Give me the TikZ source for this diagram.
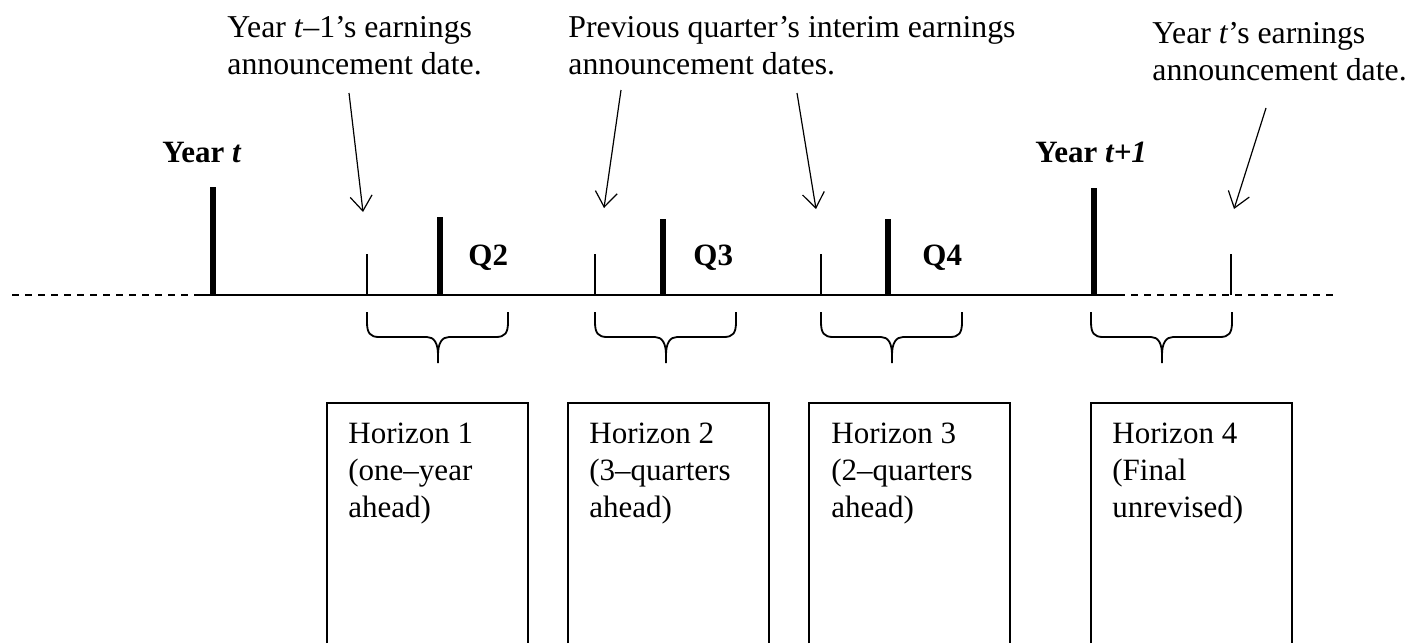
\documentclass[tikz,border=0pt]{standalone}
\usepackage{fontspec}
\setmainfont{Liberation Serif}
\usetikzlibrary{arrows.meta}

\begin{document}
\begin{tikzpicture}[x=0.5pt,y=-0.5pt,
    every node/.style={inner sep=0pt,font=\fontsize{15.5}{18.5}\selectfont},
    note/.style={anchor=base west,align=left},
    bignote/.style={note,font=\fontsize{15.9}{18.5}\selectfont},
    pointer/.style={-{Straight Barb[length=7.5pt,width=11pt]},line width=0.6pt},
    axis/.style={line width=1pt},
    axisdash/.style={line width=1pt,dash pattern=on 3.5pt off 3pt},
    bigtick/.style={line width=3pt},
    smalltick/.style={line width=0.8pt},
    brace/.style={line width=0.9pt},
    hbox/.style={line width=0.9pt}]
  \useasboundingbox (0,0) rectangle (1407,643);

  % time line
  \draw[axisdash] (12,295) -- (230,295);
  \draw[axis] (197,295) -- (1118,295);
  \draw[axisdash] (1118,295) -- (1335,295);

  % year and quarter ends
  \foreach \x/\t in {213/187,440/217,663/219,888/219,1094/188}{
    \draw[bigtick] (\x,295) -- (\x,\t);
  }
  % announcement dates
  \foreach \x in {367,595,821,1231}{
    \draw[smalltick] (\x,295) -- (\x,254);
  }

  \node[note] (yt) at (162,162) {\bfseries Year \textit{t}};
  \node[note] (yt1) at (1035,162) {\bfseries Year \textit{t+1}};
  \node[note] (q2) at (468,265) {\bfseries Q2};
  \node[note] (q3) at (693,265) {\bfseries Q3};
  \node[note] (q4) at (922,265) {\bfseries Q4};

  % base of a two-line note is its last line
  \node[bignote] (ann1) at (227,74) {Year \textit{t}–1’s earnings\\announcement date.};
  \node[bignote] (ann2) at (568,74) {Previous quarter’s interim earnings\\announcement dates.};
  \node[bignote] (ann3) at (1152,80) {Year \textit{t}’s earnings\\announcement date.};

  \coordinate (s1) at (349,93);  \coordinate (e1) at (363,212);
  \coordinate (s2) at (621,90);  \coordinate (e2) at (604,208);
  \coordinate (s3) at (797,93);  \coordinate (e3) at (816,209);
  \coordinate (s4) at (1266,108); \coordinate (e4) at (1234,209);
  \foreach \i in {1,...,4}{
    \draw[pointer] (s\i) -- (e\i);
  }

  % braces under the horizons
  \foreach \x in {367,595,821,1091}{
    \draw[brace,shift={(\x,0)}] (0,312) -- (0,322) .. controls (0,333) and (3,337) .. (12,337)
      -- (60,337) .. controls (67,337) and (71,343) .. (71,355) -- (71,363)
      -- (71,355) .. controls (71,343) and (75,337) .. (82,337)
      -- (129,337) .. controls (138,337) and (141,333) .. (141,322) -- (141,312);
  }

  % horizon boxes, open at the bottom
  \foreach \x in {327,568,809,1091}{
    \draw[hbox] (\x,643) |- (\x+201,403) -- (\x+201,643);
  }
  \node[note] (h1) at (348,517) {Horizon 1\\(one–year\\ahead)};
  \node[note] (h2) at (589,517) {Horizon 2\\(3–quarters\\ahead)};
  \node[note] (h3) at (831,517) {Horizon 3\\(2–quarters\\ahead)};
  \node[note] (h4) at (1112,517) {Horizon 4\\(Final\\unrevised)};
\end{tikzpicture}
\end{document}
